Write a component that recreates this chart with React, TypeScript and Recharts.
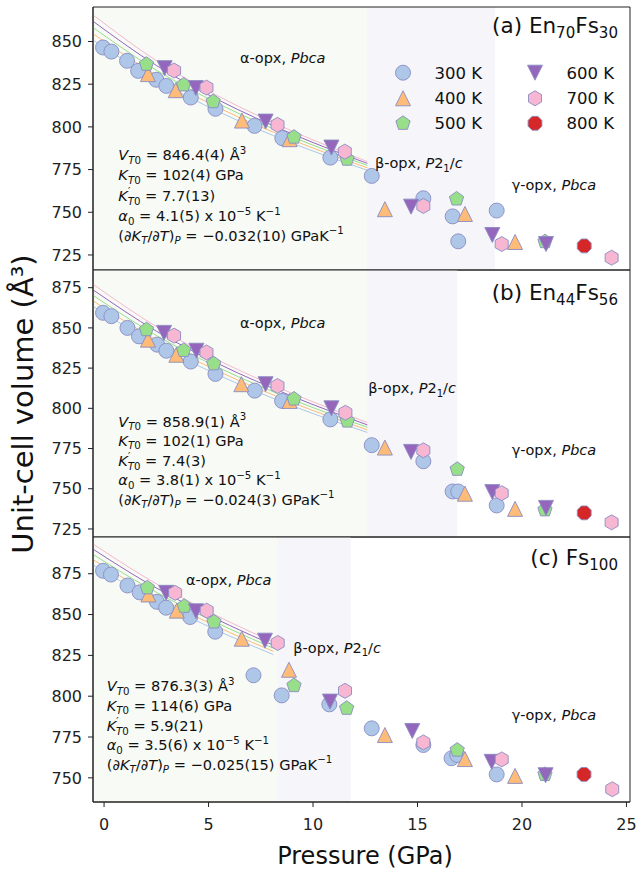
import React from 'react';
import { ComposedChart, Scatter, Line, XAxis, YAxis, ReferenceArea } from 'recharts';

const FONT = '"DejaVu Sans", sans-serif';

// ---------- series definitions ----------
const seriesLabels = ['300 K', '400 K', '500 K', '600 K', '700 K', '800 K'];
const seriesColors = ['#aec7e8', '#ffbb78', '#98df8a', '#9467bd', '#f7b6d2', '#d62728'];
const seriesShapes = ['circle', 'triUp', 'pentagon', 'triDown', 'hexagon', 'octagon'];

// ---------- axis ----------
const pressureDomain: [number, number] = [-0.53, 25.17];
const pressureTicks = [0, 5, 10, 15, 20, 25];

// ---------- panel (a) En70Fs30 ----------
const a300 = [[-0.05, 846.5], [0.35, 844.1], [1.1, 838.7], [1.63, 832.8], [2.5, 827.6], [2.98, 824.0], [4.15, 817.2], [5.33, 810.6], [7.2, 800.6], [8.53, 793.4], [10.83, 782.0], [12.81, 771.3], [15.28, 758.2], [16.68, 747.6], [16.95, 733.0], [18.79, 751.0]];
const a400 = [[2.1, 830.9], [3.43, 821.5], [6.6, 803.7], [8.88, 792.8], [13.44, 751.8], [17.27, 749.0], [19.67, 732.6]];
const a500 = [[2.03, 836.7], [3.81, 824.6], [5.22, 814.8], [9.09, 794.0], [11.63, 781.1], [16.87, 757.8], [21.1, 732.8]];
const a600 = [[2.9, 834.4], [4.39, 822.7], [7.73, 803.1], [10.88, 787.9], [14.69, 753.3], [18.58, 736.7], [21.15, 731.4]];
const a700 = [[3.35, 833.0], [4.9, 823.0], [8.3, 801.2], [11.52, 785.5], [15.28, 753.7], [19.03, 731.4], [24.29, 723.4]];
const a800 = [[22.98, 730.3]];
const aFitP = [-0.5, 2.5, 5.5, 9, 12.6];
const aFit300 = [850.6, 827.6, 808.8, 790.5, 774.6];
const aFit400 = [854.3, 830.4, 811.1, 792.4, 776.0];
const aFit500 = [857.9, 833.2, 813.4, 794.2, 777.4];
const aFit600 = [861.6, 836.0, 815.6, 795.9, 778.6];
const aFit700 = [865.3, 838.8, 817.8, 797.6, 779.7];
const aDomain: [number, number] = [716.2, 870.2];
const aTicks = [725, 750, 775, 800, 825, 850];
const aPhases = [-0.53, 12.58, 18.7];

// ---------- panel (b) En44Fs56 ----------
const b300 = [[-0.05, 859.4], [0.35, 857.3], [1.12, 850.0], [1.67, 844.75], [2.54, 839.6], [2.98, 835.8], [4.15, 829.1], [5.33, 821.4], [7.21, 811.0], [8.52, 804.6], [10.83, 793.1], [12.81, 777.1], [15.28, 767.1], [16.68, 748.3], [16.95, 748.3], [18.79, 739.6]];
const b400 = [[2.1, 842.7], [3.46, 833.3], [6.57, 815.0], [8.88, 804.6], [13.44, 775.6], [17.27, 746.9], [19.67, 737.5]];
const b500 = [[2.03, 848.9], [3.81, 836.0], [5.25, 827.7], [9.09, 805.8], [11.64, 792.1], [16.9, 762.1], [21.1, 736.9]];
const b600 = [[2.87, 846.9], [4.42, 835.8], [7.73, 815.0], [10.88, 800.0], [14.69, 772.9], [18.58, 747.9], [21.15, 738.1]];
const b700 = [[3.35, 845.2], [4.9, 834.75], [8.3, 813.9], [11.55, 797.25], [15.28, 773.9], [19.03, 747.25], [24.29, 729.1]];
const b800 = [[22.98, 735.0]];
const bFitP = [-0.5, 2.5, 5.5, 9, 12.6];
const bFit300 = [863.2, 839.7, 820.5, 801.6, 785.0];
const bFit400 = [866.6, 842.5, 822.9, 803.6, 786.6];
const bFit500 = [870.0, 845.3, 825.2, 805.5, 788.2];
const bFit600 = [873.4, 848.0, 827.5, 807.5, 789.7];
const bFit700 = [876.9, 850.8, 829.7, 809.3, 791.2];
const bDomain: [number, number] = [720, 886];
const bTicks = [725, 750, 775, 800, 825, 850, 875];
const bPhases = [-0.53, 12.6, 16.9];

// ---------- panel (c) Fs100 ----------
const c300 = [[-0.05, 876.8], [0.33, 874.5], [1.12, 867.8], [1.7, 863.6], [2.53, 857.8], [2.97, 854.2], [4.12, 848.5], [5.32, 839.5], [7.15, 812.8], [8.5, 800.5], [10.78, 795.0], [12.81, 780.3], [15.28, 770.1], [16.63, 762.0], [16.9, 764.0], [18.79, 752.1]];
const c400 = [[2.12, 862.3], [3.48, 852.4], [6.59, 835.2], [8.85, 816.2], [13.44, 776.2], [17.27, 761.5], [19.67, 751.2]];
const c500 = [[2.07, 866.4], [3.84, 855.1], [5.26, 845.5], [9.09, 806.5], [11.61, 792.6], [16.9, 767.0], [21.1, 752.1]];
const c600 = [[2.97, 863.3], [4.4, 852.0], [7.7, 834.0], [10.81, 796.7], [14.75, 778.7], [18.55, 759.8], [21.13, 751.6]];
const c700 = [[3.4, 863.3], [4.91, 852.4], [8.31, 832.6], [11.53, 803.3], [15.28, 771.7], [19.03, 761.3], [24.32, 743.0]];
const c800 = [[22.97, 752.1]];
const cFitP = [-0.5, 2, 4, 6, 8.1];
const cFit300 = [880.2, 861.8, 848.8, 836.9, 825.5];
const cFit400 = [883.4, 864.5, 851.2, 839.1, 827.5];
const cFit500 = [886.6, 867.2, 853.6, 841.3, 829.4];
const cFit600 = [889.8, 869.9, 856.0, 843.4, 831.3];
const cFit700 = [893.0, 872.6, 858.4, 845.5, 833.1];
const cDomain: [number, number] = [735.2, 897.5];
const cTicks = [750, 775, 800, 825, 850, 875];
const cPhases = [-0.53, 8.3, 11.8];

const shadeColors = ['#f7faf5', '#f5f5fa'];
const EDGE = '#8a8cc2';
const AXIS = '#222';

type Pair = number[];
const toPts = (arr: Pair[]) => arr.map(([p, v]) => ({ p, v }));
const fitPts = (ps: number[], vs: number[]) => ps.map((p, i) => ({ p, v: vs[i] }));

function polyPoints(cx: number, cy: number, r: number, n: number, startDeg: number) {
  const pts: string[] = [];
  for (let k = 0; k < n; k++) {
    const a = ((startDeg + (360 / n) * k) * Math.PI) / 180;
    pts.push(`${cx + r * Math.cos(a)},${cy + r * Math.sin(a)}`);
  }
  return pts.join(' ');
}

function Marker({ kind, cx, cy, fill }: { kind: string; cx: number; cy: number; fill: string }) {
  const r = 7.5;
  const common = { fill, stroke: EDGE, strokeWidth: 0.9 };
  if (cx == null || cy == null || isNaN(cx) || isNaN(cy)) return null;
  switch (kind) {
    case 'circle':
      return <circle cx={cx} cy={cy} r={r} {...common} />;
    case 'triUp':
      return <polygon points={`${cx},${cy - r} ${cx - r},${cy + r} ${cx + r},${cy + r}`} {...common} />;
    case 'triDown':
      return <polygon points={`${cx},${cy + r} ${cx - r},${cy - r} ${cx + r},${cy - r}`} {...common} />;
    case 'pentagon':
      return <polygon points={polyPoints(cx, cy, r, 5, -90)} {...common} />;
    case 'hexagon':
      return <polygon points={polyPoints(cx, cy, r, 6, -90)} {...common} />;
    default:
      return <polygon points={polyPoints(cx, cy, r, 8, -90 + 22.5)} {...common} />;
  }
}

type Seg = { t: string; i?: boolean; s?: 'sub' | 'sup'; dx?: number };

function Rich({ x, y, size, segs, anchor }: { x: number; y: number; size: number; segs: Seg[]; anchor?: string }) {
  let cur = 0;
  const kids = segs.map((sg, k) => {
    const target = sg.s === 'sub' ? size * 0.24 : sg.s === 'sup' ? -size * 0.42 : 0;
    const dy = target - cur;
    cur = target;
    return (
      <tspan key={k} dy={dy} dx={sg.dx || 0} fontStyle={sg.i ? 'italic' : 'normal'} fontSize={sg.s ? size * 0.7 : size}>
        {sg.t}
      </tspan>
    );
  });
  return (
    <text x={x} y={y} fontSize={size} fontFamily={FONT} fill="#111" textAnchor={(anchor as any) || 'start'} style={{ whiteSpace: 'pre' }}>
      {kids}
    </text>
  );
}

function statSegs(v0: string, k0: string, kp: string, a0: string, dk: string): Seg[][] {
  return [
    [{ t: 'V', i: true }, { t: 'T', i: true, s: 'sub' }, { t: '0', s: 'sub' }, { t: ` = ${v0} Å` }, { t: '3', s: 'sup' }],
    [{ t: 'K', i: true }, { t: 'T', i: true, s: 'sub' }, { t: '0', s: 'sub' }, { t: ` = ${k0} GPa` }],
    [{ t: 'K', i: true }, { t: '′', s: 'sup' }, { t: 'T', i: true, s: 'sub', dx: -2.5 }, { t: '0', s: 'sub' }, { t: ` = ${kp}` }],
    [{ t: 'α', i: true }, { t: '0', s: 'sub' }, { t: ` = ${a0} x 10` }, { t: '−5', s: 'sup' }, { t: ' K' }, { t: '−1', s: 'sup' }],
    [{ t: '(∂' }, { t: 'K', i: true }, { t: 'T', i: true, s: 'sub' }, { t: '/∂' }, { t: 'T', i: true }, { t: ')' }, { t: 'P', i: true, s: 'sub' }, { t: ' = ' }, { t: dk }, { t: ' GPaK' }, { t: '−1', s: 'sup' }],
  ];
}

const alphaSegs: Seg[] = [{ t: 'α-opx, ' }, { t: 'Pbca', i: true }];
const betaSegs: Seg[] = [{ t: 'β-opx, ' }, { t: 'P', i: true }, { t: '2' }, { t: '1', s: 'sub' }, { t: '/' }, { t: 'c', i: true }];
const gammaSegs: Seg[] = [{ t: 'γ-opx, ' }, { t: 'Pbca', i: true }];

function Panel(props: {
  top: number;
  height: number;
  xHeight: number;
  showX: boolean;
  yDomain: [number, number];
  yTicks: number[];
  series: Pair[][];
  fitP: number[];
  fits: number[][];
  phases: number[];
}) {
  const { top, height, xHeight, showX, yDomain, yTicks, series, fitP, fits, phases } = props;
  const tickStyle = { fill: AXIS, fontSize: 16, fontFamily: FONT };
  return (
    <div style={{ position: 'absolute', left: 0, top }}>
      <ComposedChart width={636} height={height} margin={{ top: 1, right: 6, bottom: showX ? 0 : 1, left: 0 }}>
        <XAxis
          xAxisId="b"
          type="number"
          dataKey="p"
          domain={pressureDomain}
          allowDataOverflow
          ticks={pressureTicks}
          height={xHeight}
          tick={showX ? tickStyle : false}
          tickLine={showX ? { stroke: AXIS } : false}
          tickSize={5}
          tickMargin={12}
          axisLine={{ stroke: AXIS }}
        />
        <YAxis
          yAxisId="l"
          type="number"
          dataKey="v"
          domain={yDomain}
          allowDataOverflow
          ticks={yTicks}
          width={93}
          tick={tickStyle}
          tickSize={5}
          tickMargin={6}
          tickLine={{ stroke: AXIS }}
          axisLine={{ stroke: AXIS }}
        />
        <ReferenceArea xAxisId="b" yAxisId="l" x1={phases[0]} x2={phases[1]} y1={yDomain[0]} y2={yDomain[1]} fill={shadeColors[0]} fillOpacity={1} stroke="none" />
        <ReferenceArea xAxisId="b" yAxisId="l" x1={phases[1]} x2={phases[2]} y1={yDomain[0]} y2={yDomain[1]} fill={shadeColors[1]} fillOpacity={1} stroke="none" />
        {fits.map((vs, i) => (
          <Line
            key={'f' + i}
            xAxisId="b"
            yAxisId="l"
            data={fitPts(fitP, vs)}
            dataKey="v"
            type="monotone"
            dot={false}
            activeDot={false}
            stroke={seriesColors[i]}
            strokeWidth={1}
            isAnimationActive={false}
          />
        ))}
        {series.map((arr, i) => (
          <Scatter
            key={'s' + i}
            xAxisId="b"
            yAxisId="l"
            data={toPts(arr)}
            dataKey="v"
            isAnimationActive={false}
            shape={(p: any) => <Marker kind={seriesShapes[i]} cx={p.cx} cy={p.cy} fill={seriesColors[i]} />}
          />
        ))}
        <ReferenceArea
          xAxisId="b"
          yAxisId="l"
          x1={pressureDomain[0]}
          x2={pressureDomain[1]}
          y1={yDomain[0]}
          y2={yDomain[1]}
          fill="none"
          fillOpacity={0}
          stroke={AXIS}
          strokeWidth={1}
          ifOverflow="visible"
        />
      </ComposedChart>
    </div>
  );
}

export default function App() {
  const aStats = statSegs('846.4(4)', '102(4)', '7.7(13)', '4.1(5)', '−0.032(10)');
  const bStats = statSegs('858.9(1)', '102(1)', '7.4(3)', '3.8(1)', '−0.024(3)');
  const cStats = statSegs('876.3(3)', '114(6)', '5.9(21)', '3.5(6)', '−0.025(15)');
  const aBase = [160, 180, 201, 221, 240.5];
  const bBase = [426.5, 445.5, 466, 485, 504.5];
  const cBase = [691, 710.5, 731, 750, 769.5];
  const legendCols = [403, 535];
  const legendRows = [72.7, 98.3, 123.3];
  const statSize = 14.6;
  const phaseSize = 14.5;
  return (
    <div style={{ position: 'absolute', left: 0, top: 0, width: 636, height: 869, background: '#fff', overflow: 'hidden', fontFamily: FONT }}>
      <Panel top={6} height={265} xHeight={0} showX={false} yDomain={aDomain} yTicks={aTicks} series={[a300, a400, a500, a600, a700, a800]} fitP={aFitP} fits={[aFit300, aFit400, aFit500, aFit600, aFit700]} phases={aPhases} />
      <Panel top={269} height={269} xHeight={0} showX={false} yDomain={bDomain} yTicks={bTicks} series={[b300, b400, b500, b600, b700, b800]} fitP={bFitP} fits={[bFit300, bFit400, bFit500, bFit600, bFit700]} phases={bPhases} />
      <Panel top={536} height={333} xHeight={67} showX={true} yDomain={cDomain} yTicks={cTicks} series={[c300, c400, c500, c600, c700, c800]} fitP={cFitP} fits={[cFit300, cFit400, cFit500, cFit600, cFit700]} phases={cPhases} />
      <svg width={636} height={869} style={{ position: 'absolute', left: 0, top: 0, pointerEvents: 'none' }}>
        {/* panel titles */}
        <Rich x={618} y={33} size={21.5} anchor="end" segs={[{ t: '(a) En' }, { t: '70', s: 'sub' }, { t: 'Fs' }, { t: '30', s: 'sub' }]} />
        <Rich x={618} y={300} size={21.5} anchor="end" segs={[{ t: '(b) En' }, { t: '44', s: 'sub' }, { t: 'Fs' }, { t: '56', s: 'sub' }]} />
        <Rich x={618} y={565} size={21.5} anchor="end" segs={[{ t: '(c) Fs' }, { t: '100', s: 'sub' }]} />
        {/* phase labels */}
        <Rich x={240} y={63.3} size={phaseSize} segs={alphaSegs} />
        <Rich x={375} y={168.3} size={phaseSize} segs={betaSegs} />
        <Rich x={511.7} y={190} size={phaseSize} segs={gammaSegs} />
        <Rich x={240} y={328.3} size={phaseSize} segs={alphaSegs} />
        <Rich x={368.3} y={393.3} size={phaseSize} segs={betaSegs} />
        <Rich x={511.7} y={455} size={phaseSize} segs={gammaSegs} />
        <Rich x={186} y={585} size={phaseSize} segs={alphaSegs} />
        <Rich x={293.3} y={652.7} size={phaseSize} segs={betaSegs} />
        <Rich x={511.7} y={720} size={phaseSize} segs={gammaSegs} />
        {/* fit parameters */}
        {aStats.map((s, i) => <Rich key={'as' + i} x={118.3} y={aBase[i]} size={statSize} segs={s} />)}
        {bStats.map((s, i) => <Rich key={'bs' + i} x={118.3} y={bBase[i]} size={statSize} segs={s} />)}
        {cStats.map((s, i) => <Rich key={'cs' + i} x={106.7} y={cBase[i]} size={statSize} segs={s} />)}
        {/* legend */}
        {seriesLabels.map((lab, i) => {
          const col = Math.floor(i / 3);
          const row = i % 3;
          const mx = legendCols[col];
          const my = legendRows[row];
          return (
            <g key={'lg' + i}>
              <Marker kind={seriesShapes[i]} cx={mx} cy={my} fill={seriesColors[i]} />
              <text x={mx + 31.5} y={my + 6} fontSize={16.5} fontFamily={FONT} fill="#111">{lab}</text>
            </g>
          );
        })}
        {/* axis titles */}
        <text x={365} y={864} fontSize={24} fontFamily={FONT} fill="#111" textAnchor="middle">Pressure (GPa)</text>
        <text x={33} y={404} fontSize={29} fontFamily={FONT} fill="#111" textAnchor="middle" transform="rotate(-90 33 404)">Unit-cell volume (Å³)</text>
      </svg>
    </div>
  );
}
